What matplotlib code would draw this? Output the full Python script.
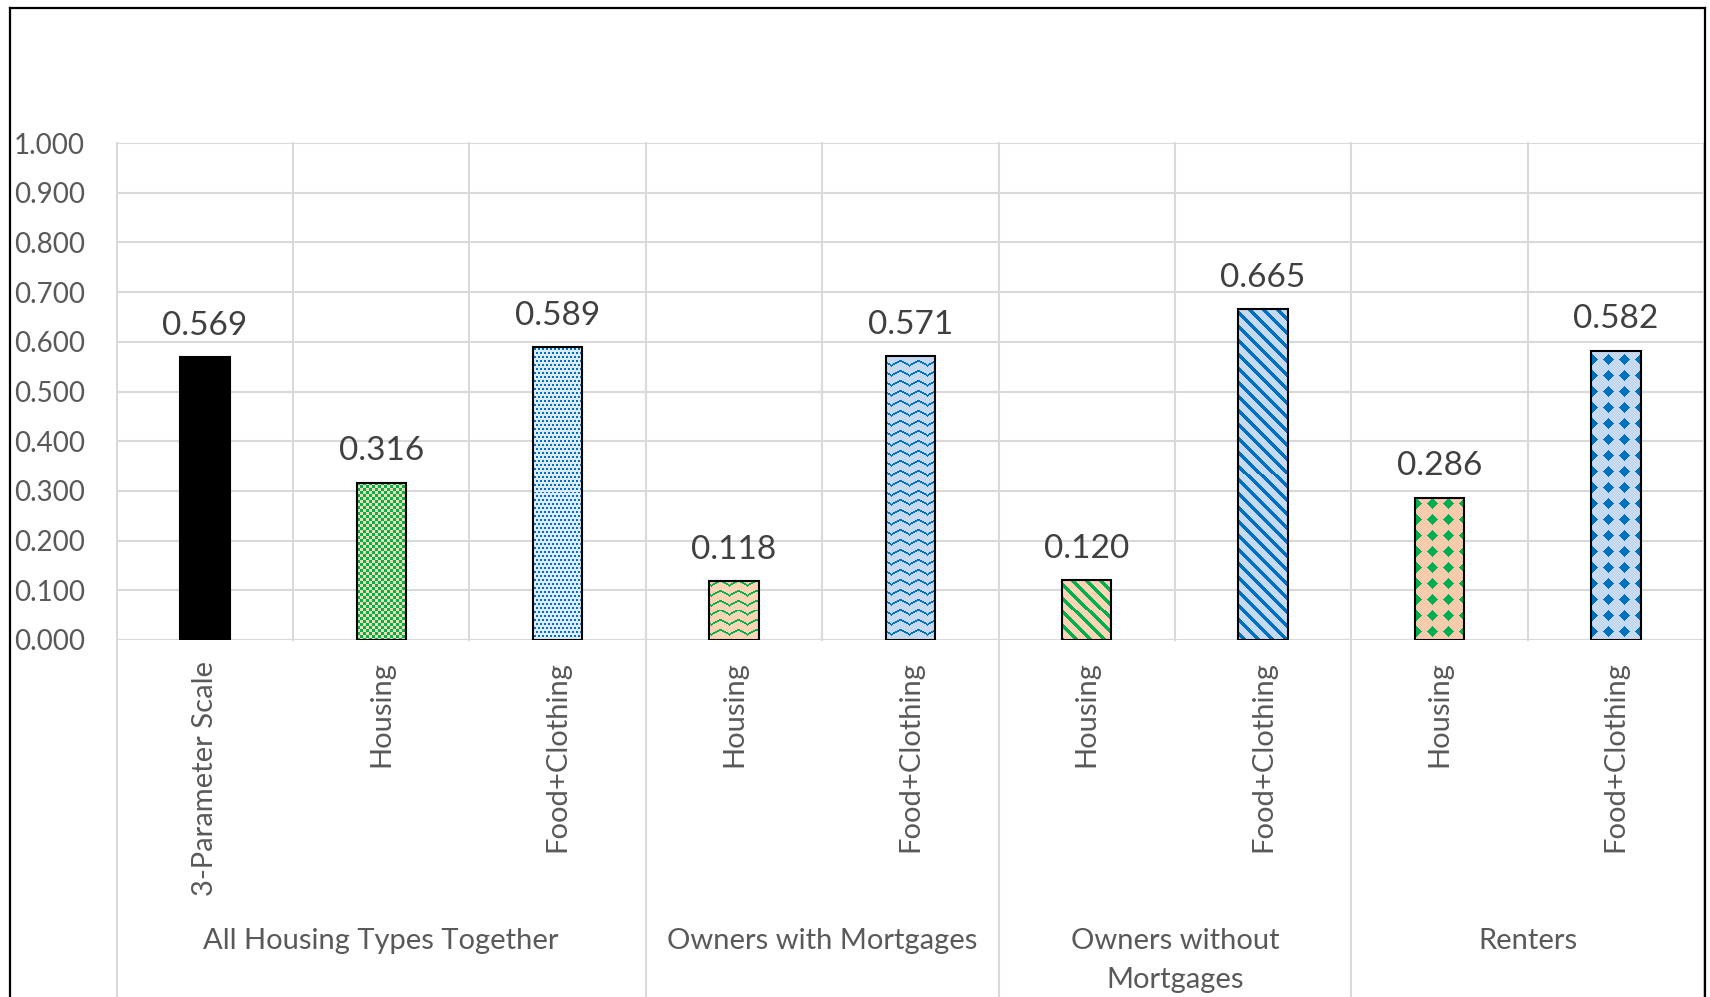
import numpy as np
import matplotlib
matplotlib.use("Agg")
import matplotlib.pyplot as plt
from matplotlib.lines import Line2D
from matplotlib import transforms
from matplotlib.colors import to_rgb

plt.rcParams["font.family"] = ["Lato", "DejaVu Sans"]

# ---- data -------------------------------------------------------------
groups = ["All Housing Types Together", "Owners with Mortgages",
          "Owners without\nMortgages", "Renters"]
group_sizes = [3, 2, 2, 2]
categories = ["3-Parameter Scale", "Housing", "Food+Clothing",
              "Housing", "Food+Clothing",
              "Housing", "Food+Clothing",
              "Housing", "Food+Clothing"]
values = [0.569, 0.316, 0.589, 0.118, 0.571, 0.120, 0.665, 0.286, 0.582]
yticks = [0.0, 0.1, 0.2, 0.3, 0.4, 0.5, 0.6, 0.7, 0.8, 0.9, 1.0]

# ---- styles -----------------------------------------------------------
GREEN = "#00B050"
BLUE = "#0070C0"
patterns = ["solid", "checker", "dots", "zigzag", "zigzag",
            "stripes", "stripes", "diamonds", "diamonds"]
fg_colors = ["#000000", GREEN, BLUE, GREEN, BLUE, GREEN, BLUE, GREEN, BLUE]
bg_colors = ["#000000", "#F3DBB0", "#DDEBF7", "#FCD5B4", "#C5D9F1",
             "#FCD5B4", "#C5D9F1", "#F8CBAD", "#C5D9F1"]
GRID = "#D9D9D9"
TEXT = "#595959"

W, H = 1710, 997
fig = plt.figure(figsize=(W / 100, H / 100), dpi=100)
ax_l, ax_r, ax_t, ax_b = 116.7, 1704.0, 143.0, 640.0
ax = fig.add_axes([ax_l / W, 1 - ax_b / H, (ax_r - ax_l) / W, (ax_b - ax_t) / H])


def pattern_mask(kind, X, Y):
    if kind == "solid":
        return np.ones_like(X, dtype=bool)
    if kind == "checker":
        return ((X // 3 + Y // 3) % 2) == 0
    if kind == "dots":
        shift = 2 * ((Y // 4) % 2)
        return ((X + shift) % 4 < 2) & (Y % 4 < 2)
    if kind == "zigzag":
        t = X % 18
        tri = np.where(t < 9, t, 18 - t)
        wave = (tri * 5) // 9
        return ((Y - wave) % 10) < 2
    if kind == "stripes":
        return ((X - Y) % 14) < 5
    if kind == "diamonds":
        dx = np.abs((X % 16) - 8)
        dy = np.abs((Y % 16) - 8)
        return (dx + dy) <= 5
    raise ValueError(kind)


x = np.arange(len(values))
ax.set_xlim(-0.5, len(values) - 0.5)
ax.set_ylim(0, 1)

bars = ax.bar(x, values, width=0.28, color="none", edgecolor="black",
              linewidth=1.5, zorder=3)

# textured fills, clipped to each bar
for bar, kind, fc, bc in zip(bars, patterns, fg_colors, bg_colors):
    x0 = bar.get_x()
    x1 = x0 + bar.get_width()
    y1 = bar.get_height()
    px0, py0 = ax.transData.transform((x0, 0))
    px1, py1 = ax.transData.transform((x1, y1))
    w = int(round(px1 - px0)) + 1
    h = int(round(py1 - py0)) + 1
    top = int(round(H - py1))
    X, Y = np.meshgrid(np.arange(w) + int(round(px0)), np.arange(h) + top)
    mask = pattern_mask(kind, X, Y)
    img = np.where(mask[..., None], np.array(to_rgb(fc)), np.array(to_rgb(bc)))
    im = ax.imshow(img, extent=(x0, x1, 0, y1), origin="upper",
                   interpolation="nearest", aspect="auto", zorder=2)
    im.set_clip_path(bar)

ax.set_xlim(-0.5, len(values) - 0.5)
ax.set_ylim(0, 1)

# value labels
for xi, v in zip(x, values):
    ax.annotate(f"{v:.3f}", (xi, v), xytext=(0, 12), textcoords="offset points",
                ha="center", va="bottom", fontsize=24, color="#404040")

# axes styling
for s in ax.spines.values():
    s.set_visible(False)
ax.set_yticks(yticks)
ax.set_yticklabels([f"{t:.3f}" for t in yticks])
ax.yaxis.grid(True, color=GRID, linewidth=1.5)
ax.set_axisbelow(True)
ax.tick_params(axis="y", length=0, pad=23, labelsize=20, labelcolor=TEXT)
ax.set_xticks(x)
ax.set_xticklabels(categories, rotation=90)
ax.tick_params(axis="x", length=0, pad=15, labelsize=21, labelcolor=TEXT)

# vertical separators
blend = transforms.blended_transform_factory(ax.transData, ax.transAxes)
boundaries = np.cumsum([0] + group_sizes) - 0.5
for k in range(len(values) + 1):
    xb = k - 0.5
    if np.isclose(boundaries, xb).any():
        ax.plot([xb, xb], [1, -1.0], transform=blend, color=GRID,
                linewidth=1.5, clip_on=False, zorder=1)
    else:
        ax.plot([xb, xb], [0, 1], transform=blend, color=GRID,
                linewidth=1.5, clip_on=False, zorder=1)

# group labels (one text per line, 39 px line step)
for g, start, size in zip(groups, boundaries[:-1], group_sizes):
    xc = start + size / 2
    xf = fig.transFigure.inverted().transform(ax.transData.transform((xc, 0)))[0]
    for i, line in enumerate(g.split("\n")):
        fig.text(xf, 1 - (949 + 39 * i) / H, line, ha="center", va="baseline",
                 fontsize=21, color=TEXT)

# chart frame
fx0, fx1, fy0 = 10 / W, 1705 / W, 1 - 8 / H
fig.add_artist(Line2D([fx0, fx0], [-0.1, fy0], transform=fig.transFigure,
                      color="black", linewidth=1.6))
fig.add_artist(Line2D([fx1, fx1], [-0.1, fy0], transform=fig.transFigure,
                      color="black", linewidth=1.6))
fig.add_artist(Line2D([fx0, fx1], [fy0, fy0], transform=fig.transFigure,
                      color="black", linewidth=1.6))

fig.savefig("out.png", dpi=100, facecolor="white")
